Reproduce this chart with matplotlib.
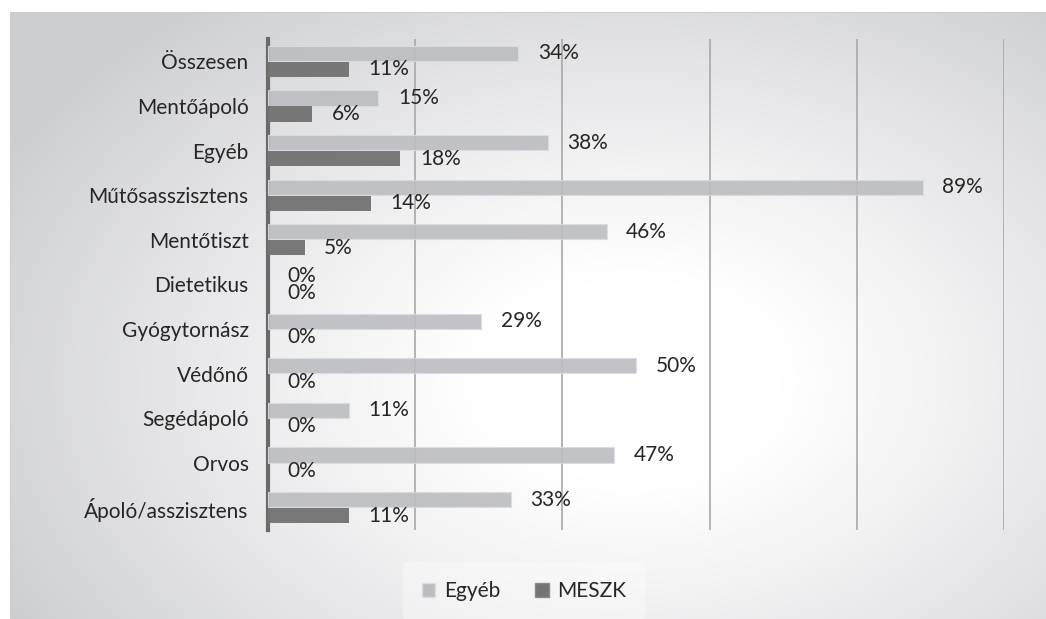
import numpy as np
import matplotlib
matplotlib.use("Agg")
import matplotlib.pyplot as plt
from matplotlib.patches import Patch

plt.rcParams['font.family'] = ['Lato', 'DejaVu Sans']

categories = ['Összesen', 'Mentőápoló', 'Egyéb', 'Műtősasszisztens', 'Mentőtiszt',
              'Dietetikus', 'Gyógytornász', 'Védőnő', 'Segédápoló', 'Orvos',
              'Ápoló/asszisztens']
egyeb = [34, 15, 38, 89, 46, 0, 29, 50, 11, 47, 33]
meszk = [11, 6, 18, 14, 5, 0, 0, 0, 0, 0, 11]
series_names = ['Egyéb', 'MESZK']

W, H = 1046, 619
fig = plt.figure(figsize=(W / 100, H / 100), dpi=100)

# background panel with a soft radial gradient
yy, xx = np.mgrid[0:H, 0:W]
r = np.sqrt(((xx - 630) / 680.0) ** 2 + ((yy - 380) / 460.0) ** 2)
t = np.clip((r - 0.22) / 0.85, 0, 1) ** 1.1
gray = np.array([204, 205, 209]) / 255.0
img = (1 - t[..., None]) * np.ones(3) + t[..., None] * gray
outside = (xx < 10) | (yy < 12)
img[outside] = 1.0
img[(xx == 10) & (yy >= 12)] = 0.80
img[(yy == 12) & (xx >= 10)] = 0.80
bg = fig.add_axes([0, 0, 1, 1], zorder=-1)
bg.imshow(img, extent=[0, W, H, 0], aspect='auto', interpolation='bilinear')
bg.axis('off')

ax = fig.add_axes([268 / W, 1 - 530 / H, 736 / W, 491 / H])
ax.set_facecolor('none')

y = np.arange(len(categories))
h = 0.34
off = 0.18
light = '#bcbdc1'
dark = '#747474'
fs = 15
ax.barh(y - off, egyeb, height=h, color=light, alpha=0.9, edgecolor='#dcdde0',
        linewidth=[0.8 if v > 0 else 0 for v in egyeb], zorder=3)
ax.barh(y + off, meszk, height=h, color=dark, alpha=0.97, linewidth=0, zorder=3)

for yi, v in zip(y, egyeb):
    ax.annotate(f'{v}%', xy=(v, yi - off), xytext=(14, 0), textcoords='offset points',
                ha='left', va='center', fontsize=fs, color='#262626')
for yi, v in zip(y, meszk):
    ax.annotate(f'{v}%', xy=(v, yi + off), xytext=(14, 0), textcoords='offset points',
                ha='left', va='center', fontsize=fs, color='#262626')

ax.set_xlim(0, 100)
ax.set_ylim(len(categories) - 0.5, -0.5)
ax.set_xticks([20, 40, 60, 80, 100])
ax.set_xticklabels([])
ax.grid(axis='x', color='#a8a8a8', linewidth=1.2, zorder=0)
ax.set_axisbelow(True)
ax.tick_params(axis='both', length=0)
ax.set_yticks(y)
ax.set_yticklabels(categories, fontsize=fs, color='#262626')
ax.tick_params(axis='y', pad=14)
for s in ['top', 'right', 'bottom']:
    ax.spines[s].set_visible(False)
ax.spines['left'].set_color('#6a6a6a')
ax.spines['left'].set_linewidth(3)

handles = [Patch(facecolor=light, edgecolor='#dcdde0'),
           Patch(facecolor=dark, edgecolor='#8a8a8a')]
leg = fig.legend(handles, series_names, loc='center', bbox_to_anchor=(524 / W, 1 - 591 / H),
                 ncol=2, frameon=True, fontsize=fs, handlelength=0.65, handleheight=0.65,
                 handletextpad=0.4, columnspacing=1.7, borderpad=0.9)
leg.get_frame().set_facecolor('white')
leg.get_frame().set_alpha(0.35)
leg.get_frame().set_edgecolor('none')
for txt in leg.get_texts():
    txt.set_color('#262626')

fig.savefig('out.png', dpi=100)
